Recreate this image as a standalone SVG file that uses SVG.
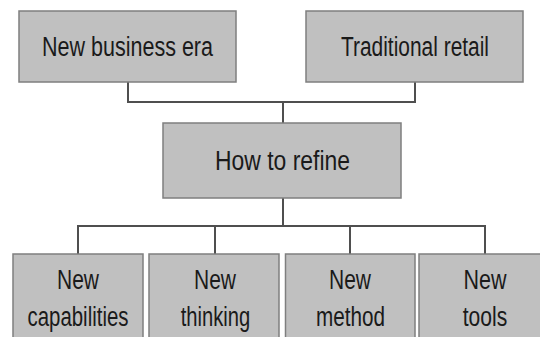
<svg xmlns="http://www.w3.org/2000/svg" width="540" height="337" viewBox="0 0 540 337">
<style>
.box{fill:#c0c0c0;stroke:#7f7f7f;stroke-width:1.5}
.lbl{font-family:"Liberation Sans",Arial,sans-serif;font-size:27px;fill:#1a1a1a;text-anchor:middle}
.conn{fill:none;stroke:#4f4f4f;stroke-width:2}
</style>
<rect x="0" y="0" width="540" height="337" fill="#ffffff"/>
<g id="connectors">
<path class="conn" d="M128 82 V102 H415 V82"/>
<path class="conn" d="M283 102 V123"/>
<path class="conn" d="M283 198 V226"/>
<path class="conn" d="M78 254 V226 H485 V254"/>
<path class="conn" d="M215 226 V254"/>
<path class="conn" d="M350 226 V254"/>
</g>
<g id="node-new-business-era">
<rect class="box" x="19" y="11" width="217" height="71"/>
<text class="lbl" x="127.5" y="55.5" textLength="171" lengthAdjust="spacingAndGlyphs">New business era</text>
</g>
<g id="node-traditional-retail">
<rect class="box" x="306" y="11" width="217" height="71"/>
<text class="lbl" x="415" y="55.5" textLength="148" lengthAdjust="spacingAndGlyphs">Traditional retail</text>
</g>
<g id="node-how-to-refine">
<rect class="box" x="163" y="123" width="238" height="75"/>
<text class="lbl" x="282.5" y="170" textLength="135" lengthAdjust="spacingAndGlyphs">How to refine</text>
</g>
<g id="node-new-capabilities">
<rect class="box" x="13" y="254" width="130" height="95"/>
<text class="lbl" x="78" y="288.5" textLength="42" lengthAdjust="spacingAndGlyphs">New</text>
<text class="lbl" x="78" y="326" textLength="101" lengthAdjust="spacingAndGlyphs">capabilities</text>
</g>
<g id="node-new-thinking">
<rect class="box" x="149" y="254" width="130" height="95"/>
<text class="lbl" x="215" y="288.5" textLength="42" lengthAdjust="spacingAndGlyphs">New</text>
<text class="lbl" x="215.5" y="326" textLength="69.5" lengthAdjust="spacingAndGlyphs">thinking</text>
</g>
<g id="node-new-method">
<rect class="box" x="285.5" y="254" width="129.5" height="95"/>
<text class="lbl" x="350" y="288.5" textLength="42" lengthAdjust="spacingAndGlyphs">New</text>
<text class="lbl" x="350.5" y="326" textLength="69" lengthAdjust="spacingAndGlyphs">method</text>
</g>
<g id="node-new-tools">
<rect class="box" x="419" y="254" width="132" height="95"/>
<text class="lbl" x="485" y="288.5" textLength="43" lengthAdjust="spacingAndGlyphs">New</text>
<text class="lbl" x="485" y="326" textLength="44.5" lengthAdjust="spacingAndGlyphs">tools</text>
</g>
</svg>
